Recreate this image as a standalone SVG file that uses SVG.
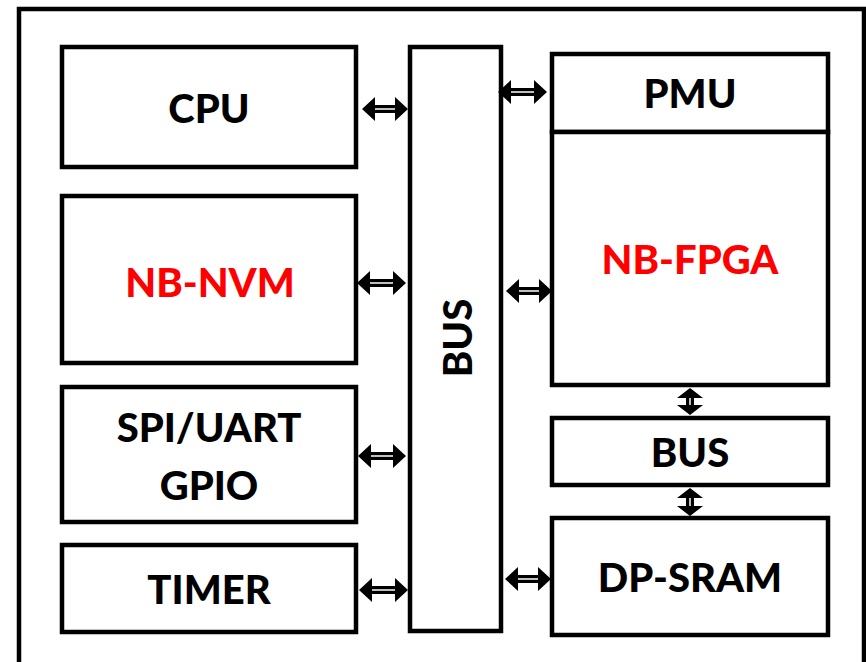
<svg xmlns="http://www.w3.org/2000/svg" width="866" height="662" viewBox="0 0 866 662">
<style>
.box{fill:#fff;stroke:#000;stroke-width:4.5}
.t{font-family:Lato,"Liberation Sans",sans-serif;font-weight:900;font-size:40px;text-anchor:middle;fill:#000}
.red{fill:#ff0000}
.arr{fill:#000}
.in{stroke:#fff;stroke-width:1.5;fill:none}
</style>
<rect width="866" height="662" fill="#fff"/>
<rect x="19" y="9" width="845" height="670" fill="none" stroke="#000" stroke-width="4.5"/>
<g id="cpu"><rect class="box" x="62" y="47" width="294" height="120"/><text class="t" x="209" y="123">CPU</text></g>
<g id="nvm"><rect class="box" x="62" y="196" width="294" height="167"/><text class="t red" x="210" y="297">NB-NVM</text></g>
<g id="spi"><rect class="box" x="62" y="387" width="294" height="135"/><text class="t" x="209" y="442">SPI/UART</text><text class="t" x="209" y="500">GPIO</text></g>
<g id="timer"><rect class="box" x="62" y="545" width="294" height="87"/><text class="t" x="209" y="604">TIMER</text></g>
<g id="bus"><rect class="box" x="410" y="47" width="91" height="584"/><text class="t" transform="translate(472,338) rotate(-90)" x="0" y="0">BUS</text></g>
<g id="pmu"><rect class="box" x="552" y="54" width="276" height="78"/><text class="t" x="690" y="108">PMU</text></g>
<g id="fpga"><rect class="box" x="552" y="132" width="276" height="253"/><text class="t red" x="690" y="274">NB-FPGA</text></g>
<g id="bus2"><rect class="box" x="552" y="418" width="276" height="67"/><text class="t" x="690" y="467">BUS</text></g>
<g id="sram"><rect class="box" x="552" y="518" width="276" height="117"/><text class="t" x="690" y="592">DP-SRAM</text></g>
<g id="connectors">
<path class="arr" d="M362,109 L375,97 L375,105 L395,105 L395,97 L408,109 L395,121 L395,113 L375,113 L375,121 Z"/><line class="in" x1="375" y1="109" x2="395" y2="109"/>
<path class="arr" d="M498,92 L511,80 L511,88 L534,88 L534,80 L547,92 L534,104 L534,96 L511,96 L511,104 Z"/><line class="in" x1="511" y1="92" x2="534" y2="92"/>
<path class="arr" d="M357,283 L370,271 L370,279 L393,279 L393,271 L406,283 L393,295 L393,287 L370,287 L370,295 Z"/><line class="in" x1="370" y1="283" x2="393" y2="283"/>
<path class="arr" d="M506,291 L519,279 L519,287 L539,287 L539,279 L552,291 L539,303 L539,295 L519,295 L519,303 Z"/><line class="in" x1="519" y1="291" x2="539" y2="291"/>
<path class="arr" d="M358,456 L371,444 L371,452 L393,452 L393,444 L406,456 L393,468 L393,460 L371,460 L371,468 Z"/><line class="in" x1="371" y1="456" x2="393" y2="456"/>
<path class="arr" d="M359,590 L372,578 L372,586 L395,586 L395,578 L408,590 L395,602 L395,594 L372,594 L372,602 Z"/><line class="in" x1="372" y1="590" x2="395" y2="590"/>
<path class="arr" d="M505,579 L518,567 L518,575 L538,575 L538,567 L551,579 L538,591 L538,583 L518,583 L518,591 Z"/><line class="in" x1="518" y1="579" x2="538" y2="579"/>
<path class="arr" d="M690,388 L703,398 L694,398 L694,405 L703,405 L690,415 L677,405 L686,405 L686,398 L677,398 Z"/><line class="in" x1="690" y1="398" x2="690" y2="405"/>
<path class="arr" d="M690,488 L703,498 L694,498 L694,506 L703,506 L690,516 L677,506 L686,506 L686,498 L677,498 Z"/><line class="in" x1="690" y1="498" x2="690" y2="506"/>
</g>
</svg>
